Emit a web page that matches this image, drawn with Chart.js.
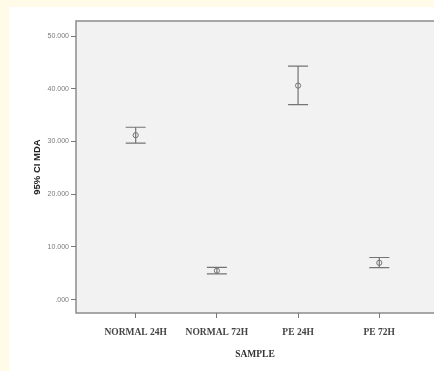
<!DOCTYPE html>
<html lang="en">
<head>
    <meta charset="UTF-8">
    <title>95% CI MDA by sample</title>
    <script src="https://cdn.jsdelivr.net/npm/chart.js"></script>
    <style>
        html, body { margin: 0; padding: 0; }
        body { width: 434px; height: 371px; background: #fffbe8; position: relative; overflow: hidden; }
        #paper { position: absolute; left: 9px; top: 7px; right: 0; bottom: 0; background: #ffffff; }
        #wrap { position: absolute; left: 0; top: 0; width: 434px; height: 371px; }
    </style>
</head>
<body>
    <div id="paper"></div>
    <div id="wrap"><canvas id="ciChart" width="434" height="371"></canvas></div>

    <script>
        // values
        const samples = ['NORMAL 24H', 'NORMAL 72H', 'PE 24H', 'PE 72H'];
        const means = [31.2, 5.5, 40.6, 7.0];
        const lowers = [29.7, 4.9, 37.0, 6.1];
        const uppers = [32.7, 6.15, 44.3, 8.0];
        const yTicks = [0, 10, 20, 30, 40, 50];
        const yTickLabels = ['.000', '10.000', '20.000', '30.000', '40.000', '50.000'];

        const lineColor = '#747474';

        // plot background + frame (right side runs off the picture)
        const frame = {
            id: 'frame',
            beforeDraw(chart) {
                const {ctx, chartArea: a} = chart;
                ctx.save();
                ctx.fillStyle = '#f2f2f2';
                ctx.fillRect(a.left, a.top, a.right - a.left, a.bottom - a.top);
                ctx.strokeStyle = '#8c8c8c';
                ctx.lineWidth = 1.5;
                ctx.beginPath();
                ctx.moveTo(a.right + 5, a.top);
                ctx.lineTo(a.left, a.top);
                ctx.lineTo(a.left, a.bottom);
                ctx.lineTo(a.right + 5, a.bottom);
                ctx.stroke();
                ctx.restore();
            }
        };

        // confidence interval whiskers
        const whiskers = {
            id: 'whiskers',
            beforeDatasetsDraw(chart) {
                const {ctx, scales: {x, y}} = chart;
                ctx.save();
                ctx.strokeStyle = lineColor;
                ctx.lineWidth = 1.2;
                samples.forEach((s, i) => {
                    const px = x.getPixelForValue(i + 1);
                    const lo = y.getPixelForValue(lowers[i]);
                    const hi = y.getPixelForValue(uppers[i]);
                    ctx.beginPath();
                    ctx.moveTo(px, lo); ctx.lineTo(px, hi);
                    ctx.moveTo(px - 10, lo); ctx.lineTo(px + 10, lo);
                    ctx.moveTo(px - 10, hi); ctx.lineTo(px + 10, hi);
                    ctx.stroke();
                });
                ctx.restore();
            }
        };

        new Chart(document.getElementById('ciChart'), {
            type: 'scatter',
            data: {
                datasets: [{
                    data: means.map((m, i) => ({x: i + 1, y: m})),
                    pointRadius: 2.6,
                    pointBorderWidth: 1,
                    pointBackgroundColor: 'rgba(0,0,0,0)',
                    pointBorderColor: lineColor
                }]
            },
            options: {
                responsive: false,
                animation: false,
                layout: { autoPadding: false, padding: { top: 21, right: 0, left: 0, bottom: 0 } },
                plugins: { legend: { display: false }, tooltip: { enabled: false } },
                scales: {
                    x: {
                        type: 'linear',
                        min: 0.265,
                        max: 4.674,
                        afterBuildTicks: s => { s.ticks = samples.map((c, i) => ({value: i + 1})); },
                        afterFit: s => { s.height = 58; },
                        ticks: {
                            callback: (v) => samples[v - 1],
                            autoSkip: false,
                            maxRotation: 0,
                            padding: 9,
                            color: '#444',
                            font: { family: 'Liberation Serif', size: 9.5, weight: 'bold' }
                        },
                        grid: { drawOnChartArea: false, drawTicks: true, tickLength: 5, color: '#777' },
                        border: { display: false },
                        title: {
                            display: true,
                            text: 'SAMPLE',
                            color: '#333',
                            padding: { top: 0, bottom: 11 },
                            font: { family: 'Liberation Serif', size: 9.5, weight: 'bold' }
                        }
                    },
                    y: {
                        min: -2.52,
                        max: 52.85,
                        afterBuildTicks: s => { s.ticks = yTicks.map(v => ({value: v})); },
                        afterFit: s => { s.width = 76; },
                        ticks: {
                            callback: (v) => yTickLabels[yTicks.indexOf(v)],
                            padding: 2,
                            color: '#7a7a7a',
                            font: { family: 'Liberation Sans', size: 7 }
                        },
                        grid: { drawOnChartArea: false, drawTicks: true, tickLength: 5, color: '#777' },
                        border: { display: false },
                        title: {
                            display: true,
                            text: '95% CI MDA',
                            color: '#222',
                            padding: { top: 32, bottom: 0 },
                            font: { family: 'Liberation Sans', size: 9.5, weight: 'bold' }
                        }
                    }
                }
            },
            plugins: [frame, whiskers]
        });
    </script>
</body>
</html>
